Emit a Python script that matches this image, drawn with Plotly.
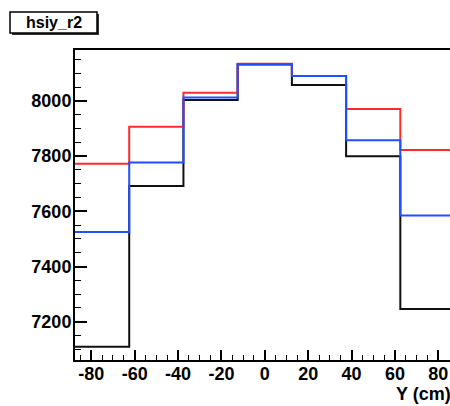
import plotly.graph_objects as go

# Bin edges (Y in cm) and bin contents for three histograms
edges = [-87.5, -62.5, -37.5, -12.5, 12.5, 37.5, 62.5, 87.5]
black_vals = [7109, 7692, 8004, 8132, 8058, 7800, 7246]
red_vals = [7773, 7907, 8030, 8135, 8091, 7971, 7822]
blue_vals = [7525, 7777, 8013, 8133, 8091, 7858, 7585]

y_ticks = [7200, 7400, 7600, 7800, 8000]
x_ticks = [-80, -60, -40, -20, 0, 20, 40, 60, 80]

W, H = 450, 406
L, T, B = 75, 50, 46
FAM = "Liberation Sans, Arial, sans-serif"

fig = go.Figure()
for vals, col in [(black_vals, "#111111"), (red_vals, "#ff2a2a"), (blue_vals, "#1f4fff")]:
    fig.add_trace(go.Scatter(x=edges, y=vals + [vals[-1]], mode="lines",
                             line=dict(shape="hv", color=col, width=2),
                             showlegend=False, hoverinfo="skip"))

font = dict(family=FAM, size=18, color="black")

fig.update_layout(
    width=W, height=H,
    margin=dict(l=L, r=0, t=T, b=B, pad=0),
    paper_bgcolor="white", plot_bgcolor="white",
    xaxis=dict(range=[-87.5, 85.4], tickvals=x_ticks,
               ticktext=["<b>%d</b>" % v for v in x_ticks],
               ticks="inside", ticklen=10, tickwidth=1.5, tickcolor="black",
               minor=dict(dtick=5, tick0=0, ticks="inside", ticklen=5, tickcolor="black", tickwidth=1.2),
               showline=True, linecolor="black", linewidth=2, mirror=True,
               showgrid=False, zeroline=False, tickfont=font, ticklabelstandoff=-4),
    yaxis=dict(range=[7061, 8185], tickvals=y_ticks,
               ticktext=["<b>%d</b>" % v for v in y_ticks],
               ticks="inside", ticklen=12, tickwidth=1.5, tickcolor="black",
               minor=dict(dtick=50, tick0=0, ticks="inside", ticklen=6, tickcolor="black", tickwidth=1.2),
               showline=True, linecolor="black", linewidth=2, mirror=False,
               showgrid=False, zeroline=False, tickfont=font, ticklabelstandoff=-2),
)

pw, ph = W - L, H - T - B
def px(x):
    return (x - L) / pw
def py(y):
    return (H - B - y) / ph

# title box with shadow
fig.add_shape(type="rect", xref="paper", yref="paper",
              x0=px(12), x1=px(99), y0=py(35), y1=py(14),
              line=dict(width=0), fillcolor="#333333", layer="above")
fig.add_shape(type="rect", xref="paper", yref="paper",
              x0=px(10), x1=px(97), y0=py(33), y1=py(12),
              line=dict(width=1.5, color="black"), fillcolor="white", layer="above")
fig.add_annotation(xref="paper", yref="paper", x=px(53.5), y=py(22.5),
                   text="<b>hsiy_r2</b>", showarrow=False,
                   font=dict(family=FAM, size=16, color="black"),
                   xanchor="center", yanchor="middle")

# axis title
fig.add_annotation(xref="paper", yref="paper", x=px(453), y=py(394),
                   text="<b>Y (cm)</b>", showarrow=False,
                   font=dict(family=FAM, size=18, color="black"),
                   xanchor="right", yanchor="middle")

fig.write_html("out.html")
